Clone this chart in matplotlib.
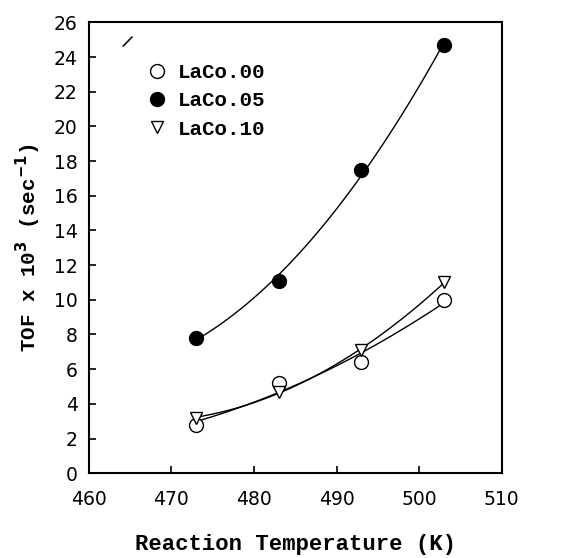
import numpy as np
import matplotlib.pyplot as plt

# Reaction temperature (K) and TOF x 10^3 (sec^-1)
temps = [473, 483, 493, 503]
laco00 = [2.8, 5.2, 6.4, 10.0]
laco05 = [7.8, 11.1, 17.5, 24.7]
laco10 = [3.2, 4.7, 7.1, 11.0]

mono = 'Liberation Mono'

fig = plt.figure(figsize=(5.8, 5.58), dpi=100)
ax = fig.add_axes([0.153, 0.152, 0.712, 0.808])

t_fine = np.linspace(temps[0], temps[-1], 100)
series = [
    (laco00, 'o', 'white', 'LaCo.00'),
    (laco05, 'o', 'black', 'LaCo.05'),
    (laco10, 'v', 'white', 'LaCo.10'),
]
for vals, mk, fc, lab in series:
    coef = np.polyfit(temps, vals, 2)
    ax.plot(t_fine, np.polyval(coef, t_fine), color='black', lw=1.0, zorder=2)
    ax.plot(temps, vals, linestyle='none', marker=mk, markersize=10 if mk == 'o' else 9,
            markerfacecolor=fc, markeredgecolor='black', markeredgewidth=1.0,
            label=lab, zorder=3)

ax.set_xlim(460, 510)
ax.set_ylim(0, 26)
ax.set_xticks(np.arange(460, 511, 10))
ax.set_yticks(np.arange(0, 27, 2))
ax.tick_params(direction='in', length=5, width=1.2, labelsize=13.5, pad=8)
ax.tick_params(axis='x', pad=12)
for s in ax.spines.values():
    s.set_linewidth(1.5)

ax.set_xlabel('Reaction Temperature (K)', fontfamily=mono, fontweight='bold',
              fontsize=16, labelpad=18)
ax.set_ylabel(r'TOF x 10$^{\mathbf{3}}$ (sec$^{\mathbf{-1}}$)', fontfamily=mono,
              fontweight='bold', fontsize=15, labelpad=8)

# stray mark in the top-left corner of the original figure
ax.text(464.6, 24.8, '/', fontfamily=mono, fontweight='bold', fontsize=12,
        ha='center', va='center', rotation=-15)

leg = ax.legend(loc='upper left', bbox_to_anchor=(0.14, 0.91), frameon=False,
                prop={'family': mono, 'weight': 'bold', 'size': 15},
                handlelength=1.0, handletextpad=0.5, labelspacing=0.45,
                borderaxespad=0, borderpad=0)

fig.savefig('out.png', dpi=100)
